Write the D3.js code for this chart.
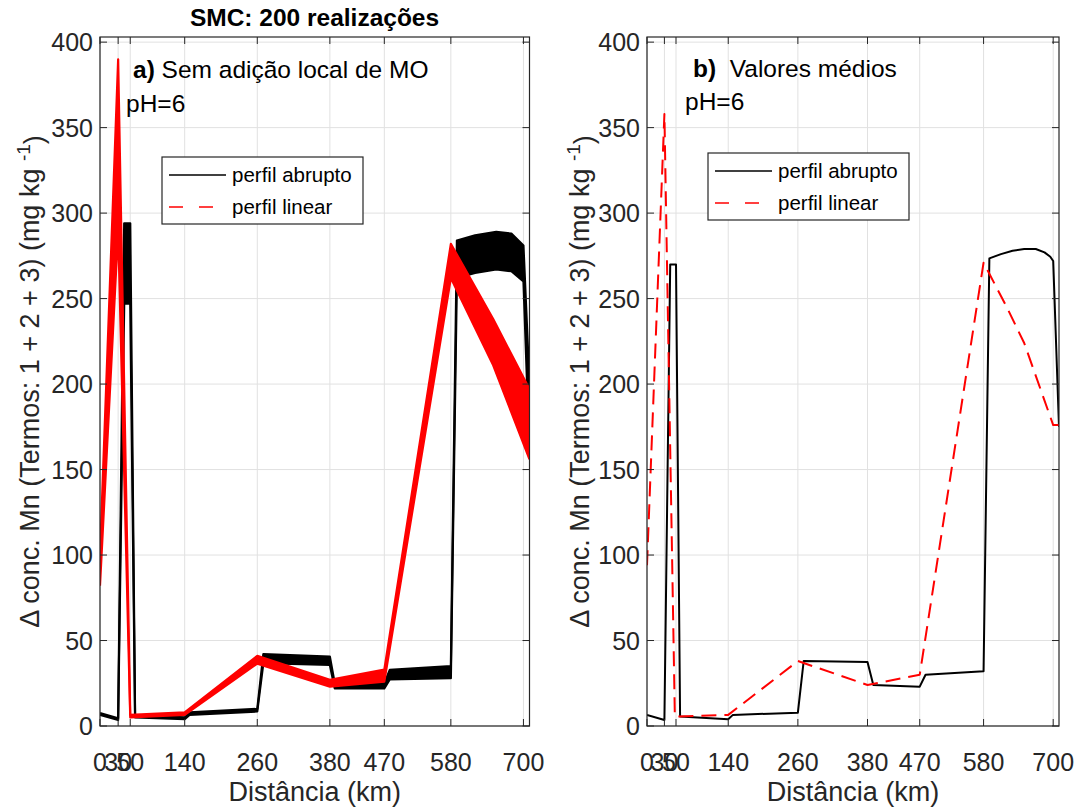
<!DOCTYPE html>
<html><head><meta charset="utf-8">
<script src="https://cdn.jsdelivr.net/npm/d3@7"></script>
<style>
body{margin:0;background:#fff;}
svg{font-family:"Liberation Sans",Arial,Helvetica,sans-serif;}
</style></head>
<body>
<svg id="c" width="1080" height="809"></svg>
<script>
// ---- data ----
const xTicks = [0, 30, 50, 140, 260, 380, 470, 580, 700];
const yTicks = [0, 50, 100, 150, 200, 250, 300, 350, 400];

// Panel a) envelopes of 200 realizations (abrupt profile)
const abruptX    = [0, 30, 40, 50, 58, 140, 148, 260, 270, 380, 388, 470, 479, 580, 590, 620, 655, 680, 700, 710];
const abruptHigh = [7.5, 4.5, 294, 294, 6.5, 5, 8, 10, 42, 40.6, 25, 25, 32.8, 35, 284, 287, 289, 288, 281, 200];
const abruptLow  = [6.5, 3.5, 247, 247, 5, 4, 6.5, 8.5, 36.7, 35.7, 22, 22, 27.3, 28, 262, 265, 267, 266, 260, 160];

// Panel a) envelopes of 200 realizations (linear profile)
const linearX    = [0, 30, 50, 140, 260, 380, 470, 580, 650, 710];
const linearHigh = [100, 390, 6.5, 8, 41, 27, 33, 282, 238, 197];
const linearLow  = [82, 290, 5, 6.5, 36.5, 23, 26, 262, 211, 156];

// Panel b) mean values
const meanAbruptX = [0, 30, 40, 50, 57, 140, 148, 260, 270, 380, 390, 470, 480, 580, 590, 610, 630, 650, 670, 685, 695, 700, 710];
const meanAbrupt  = [6.5, 3.5, 270, 270, 5.5, 4, 6.5, 7.8, 38, 37.5, 24, 23, 30, 32, 273.5, 276, 278, 279, 279, 277, 274.5, 272, 175];
const meanLinearX = [0, 30, 48, 140, 260, 380, 470, 580, 620, 650, 700, 710];
const meanLinear  = [94, 358, 5.5, 6.5, 38, 24, 30, 271, 245, 224, 176, 176];

const legendLabels = ["perfil abrupto", "perfil linear"];

// ---- drawing ----
const svg = d3.select("#c");
const axisColor = "#262626";
const gridColor = "#e1e1e1";
const panels = [
  {x0: 100, x1: 529.5, key: "a"},
  {x0: 647, x1: 1059, key: "b"}
];
const yTop = 37, yBot = 726;

panels.forEach((p, i) => {
  const x = d3.scaleLinear().domain([0, 710]).range([p.x0, p.x1]);
  const y = d3.scaleLinear().domain([0, 403]).range([yBot, yTop]);
  const g = svg.append("g");
  const clipId = "clip" + i;
  svg.append("clipPath").attr("id", clipId).append("rect")
    .attr("x", p.x0).attr("y", yTop).attr("width", p.x1 - p.x0).attr("height", yBot - yTop);

  // grid
  g.append("g").selectAll("line").data(xTicks).join("line")
    .attr("x1", d => x(d)).attr("x2", d => x(d)).attr("y1", yTop).attr("y2", yBot)
    .attr("stroke", gridColor).attr("stroke-width", 1);
  g.append("g").selectAll("line").data(yTicks).join("line")
    .attr("y1", d => y(d)).attr("y2", d => y(d)).attr("x1", p.x0).attr("x2", p.x1)
    .attr("stroke", gridColor).attr("stroke-width", 1);

  const plot = g.append("g").attr("clip-path", `url(#${clipId})`);
  const line = d3.line().x(d => x(d[0])).y(d => y(d[1]));

  if (p.key === "a") {
    const band = (xs, hi, lo, color) => {
      const hiPts = xs.map((v, k) => [v, hi[k]]);
      const loPts = xs.map((v, k) => [v, lo[k]]);
      const poly = hiPts.concat(loPts.slice().reverse());
      plot.append("path").attr("d", line(poly) + "Z").attr("fill", color).attr("stroke", "none");
      [hiPts, loPts].forEach(pts => plot.append("path").attr("d", line(pts))
        .attr("fill", "none").attr("stroke", color).attr("stroke-width", 2.2)
        .attr("stroke-linejoin", "round"));
    };
    band(abruptX, abruptHigh, abruptLow, "#000");
    band(linearX, linearHigh, linearLow, "#ff0000");
  } else {
    plot.append("path").attr("d", line(meanAbruptX.map((v, k) => [v, meanAbrupt[k]])))
      .attr("fill", "none").attr("stroke", "#000").attr("stroke-width", 2).attr("stroke-linejoin", "round");
    plot.append("path").attr("d", line(meanLinearX.map((v, k) => [v, meanLinear[k]])))
      .attr("fill", "none").attr("stroke", "#ff0000").attr("stroke-width", 2)
      .attr("stroke-dasharray", "15,8").attr("stroke-linejoin", "round");
  }

  // axes (box with inward ticks)
  const ax = g.append("g");
  ax.append("rect").attr("x", p.x0).attr("y", yTop).attr("width", p.x1 - p.x0).attr("height", yBot - yTop)
    .attr("fill", "none").attr("stroke", axisColor).attr("stroke-width", 1.2);
  const tl = 7;
  xTicks.forEach(t => {
    ax.append("line").attr("x1", x(t)).attr("x2", x(t)).attr("y1", yBot).attr("y2", yBot - tl).attr("stroke", axisColor);
    ax.append("line").attr("x1", x(t)).attr("x2", x(t)).attr("y1", yTop).attr("y2", yTop + tl).attr("stroke", axisColor);
    ax.append("text").attr("x", x(t)).attr("y", 771).attr("text-anchor", "middle")
      .attr("font-size", 25).attr("fill", axisColor).text(t);
  });
  yTicks.forEach(t => {
    ax.append("line").attr("x1", p.x0).attr("x2", p.x0 + tl).attr("y1", y(t)).attr("y2", y(t)).attr("stroke", axisColor);
    ax.append("line").attr("x1", p.x1).attr("x2", p.x1 - tl).attr("y1", y(t)).attr("y2", y(t)).attr("stroke", axisColor);
    ax.append("text").attr("x", p.x0 - 7).attr("y", y(t)).attr("dy", "0.36em").attr("text-anchor", "end")
      .attr("font-size", 25).attr("fill", axisColor).text(t);
  });

  // x label
  g.append("text").attr("x", (p.x0 + p.x1) / 2).attr("y", 801).attr("text-anchor", "middle")
    .attr("font-size", 27).attr("fill", axisColor).text("Distância (km)");
  // y label
  const ylx = p.key === "a" ? 39 : 589;
  const yl = g.append("text").attr("transform", `translate(${ylx},${(yTop + yBot) / 2}) rotate(-90)`)
    .attr("text-anchor", "middle").attr("font-size", 27).attr("fill", axisColor);
  yl.append("tspan").text("Δ conc. Mn (Termos: 1 + 2 + 3) (mg kg ");
  yl.append("tspan").attr("dy", "-0.5em").attr("font-size", 19).text("-1");
  yl.append("tspan").attr("dy", "0.5em").text(")");

  // annotations
  const ann = g.append("text").attr("font-size", 24.5).attr("fill", "#000");
  if (p.key === "a") {
    ann.attr("x", 133).attr("y", 78);
    ann.append("tspan").attr("font-weight", "bold").text("a)");
    ann.append("tspan").text(" Sem adição local de MO");
    g.append("text").attr("x", 126).attr("y", 112).attr("font-size", 24.5).attr("fill", "#000").text("pH=6");
  } else {
    ann.attr("x", 693).attr("y", 77);
    ann.append("tspan").attr("font-weight", "bold").text("b)");
    ann.append("tspan").text("\u00a0 Valores médios");
    g.append("text").attr("x", 685).attr("y", 110).attr("font-size", 24.5).attr("fill", "#000").text("pH=6");
  }

  // legend
  const L = p.key === "a" ? {x: 162, y: 157} : {x: 708, y: 153};
  const lg = g.append("g").attr("transform", `translate(${L.x},${L.y})`);
  lg.append("rect").attr("width", 201).attr("height", 67).attr("fill", "#fff")
    .attr("stroke", axisColor).attr("stroke-width", 1.2);
  const lrows = [{c: "#000", dash: null}, {c: "#ff0000", dash: "14,16"}];
  lrows.forEach((r, k) => {
    const ly = 18 + k * 32;
    lg.append("line").attr("x1", 7).attr("x2", 64).attr("y1", ly).attr("y2", ly)
      .attr("stroke", r.c).attr("stroke-width", 1.3).attr("stroke-dasharray", r.dash);
    lg.append("text").attr("x", 70).attr("y", ly).attr("dy", "0.35em").attr("font-size", 20.5)
      .attr("fill", "#000").text(legendLabels[k]);
  });
});

// title
svg.append("text").attr("x", 314.5).attr("y", 26).attr("text-anchor", "middle")
  .attr("font-size", 24.5).attr("font-weight", "bold").attr("fill", "#000").text("SMC: 200 realizações");
</script>
</body></html>
